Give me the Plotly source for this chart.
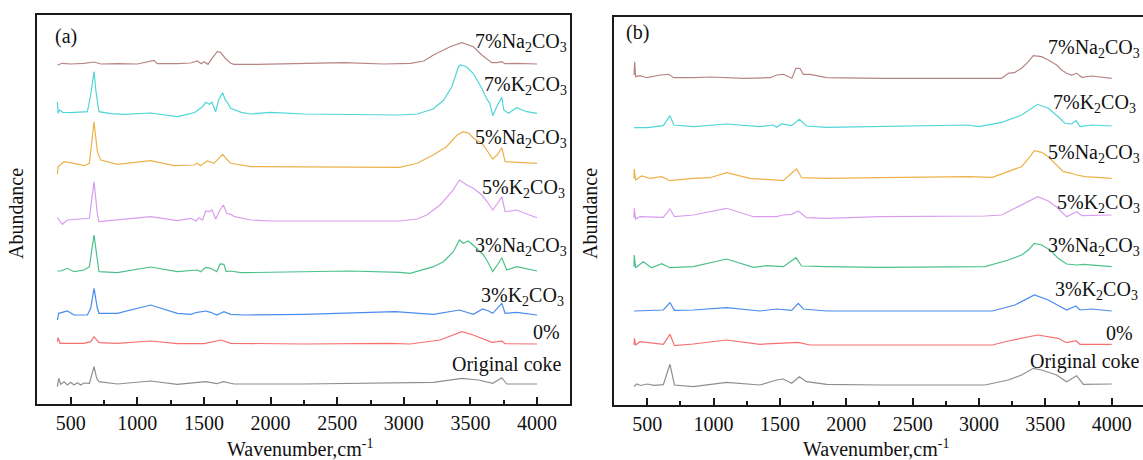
import plotly.graph_objects as go

# ---------------- Panel (a) data: wavenumber (cm-1) and stacked abundance ----------------
a_na7_x = [400, 437, 500, 600, 675, 725, 850, 1000, 1125, 1150, 1300, 1400, 1450, 1480, 1500, 1530, 1560, 1600, 1625, 1660, 1700, 1725, 1900, 2100, 2250, 2550, 2850, 2950, 3050, 3150, 3222, 3347, 3435, 3522, 3585, 3660, 3700, 3735, 3760, 3850, 4000]
a_na7_y = [339, 340.7, 340, 340.7, 342, 340, 340.3, 340, 343.7, 340.3, 340.3, 341, 343, 340.3, 342.3, 339.7, 345.7, 352.3, 351.7, 345.7, 340.7, 339.7, 339.7, 340.3, 340.7, 341.3, 340, 340.3, 340.7, 343, 349, 357.3, 361.3, 357.3, 349, 341.3, 341.3, 342.3, 340.3, 340.7, 340]

a_k7_x = [400, 405, 415, 440, 500, 600, 625, 650, 675, 690, 712, 800, 900, 1100, 1200, 1300, 1400, 1440, 1463, 1490, 1513, 1540, 1560, 1588, 1610, 1640, 1660, 1680, 1700, 1730, 1780, 1850, 2000, 2250, 2600, 2970, 3100, 3220, 3300, 3360, 3410, 3425, 3470, 3520, 3585, 3620, 3645, 3667, 3697, 3735, 3750, 3785, 3847, 3922, 4000]
a_k7_y = [302.3, 290.7, 294, 291.7, 291.3, 291.7, 292.3, 309, 332.3, 312.3, 292.3, 290.3, 289.7, 291, 289, 287.3, 290.3, 292.3, 294.7, 297.3, 301.7, 299.7, 301.7, 292.3, 304, 311.3, 304, 300.7, 295.7, 294, 291.7, 290, 291.7, 290, 289.3, 289, 290, 295, 304, 317.3, 337.3, 339, 337.3, 330.7, 315.7, 305.7, 300.7, 288.3, 297.3, 306.7, 294, 290.7, 296.3, 292.3, 290.7]

a_na5_x = [400, 405, 450, 525, 600, 640, 675, 700, 725, 850, 1100, 1275, 1425, 1450, 1475, 1525, 1575, 1640, 1670, 1700, 1850, 2250, 2970, 3100, 3220, 3320, 3400, 3447, 3490, 3522, 3585, 3622, 3667, 3700, 3735, 3760, 3847, 4000]
a_na5_y = [229.7, 237.3, 242.3, 240.7, 238.3, 240.7, 282.3, 252.3, 244, 239.7, 243.3, 238.3, 239, 240.7, 238.3, 243, 240.7, 249.7, 245, 240.7, 237.3, 237.3, 236.7, 240.7, 249, 257.3, 269, 272.3, 270.7, 265.7, 260.7, 254, 245, 249, 256.3, 242.3, 241.7, 240.7]

a_k5_x = [400, 437, 475, 600, 640, 675, 700, 712, 850, 1100, 1300, 1400, 1440, 1463, 1490, 1513, 1540, 1560, 1588, 1620, 1646, 1670, 1700, 1730, 1850, 2000, 2500, 2970, 3100, 3172, 3272, 3360, 3418, 3472, 3522, 3585, 3622, 3667, 3700, 3735, 3760, 3800, 3847, 3922, 4000]
a_k5_y = [186.3, 179.7, 184, 185, 185.7, 222.3, 190, 182.3, 184, 187.3, 183.3, 185.7, 183, 186.3, 184, 193, 192.3, 194, 185, 194, 199, 190.7, 189.7, 187.3, 184, 183, 183, 183, 185, 189, 199, 212.3, 224, 219, 215.7, 209, 203, 194, 200, 207.3, 192.3, 193, 194, 190, 186.3]

a_na3_x = [400, 425, 475, 525, 600, 640, 675, 700, 712, 850, 1100, 1300, 1400, 1450, 1475, 1513, 1550, 1596, 1621, 1650, 1666, 1700, 1776, 2250, 2600, 2970, 3047, 3222, 3297, 3372, 3417, 3447, 3484, 3547, 3597, 3622, 3667, 3710, 3735, 3772, 3847, 4000]
a_na3_y = [133, 133, 135.7, 132.3, 134, 137.3, 169, 142.3, 132.3, 131.3, 137, 132.3, 133.3, 134, 132.3, 136.7, 135.7, 132.3, 140, 139.7, 132.3, 133, 131.3, 132.3, 133, 131.7, 130.7, 137.3, 142.3, 152.3, 164, 160.7, 163, 155.7, 149, 144, 132.3, 140.7, 146.3, 134, 137.3, 133]

a_k3_x = [400, 410, 475, 525, 625, 650, 675, 700, 712, 850, 1100, 1300, 1400, 1450, 1513, 1550, 1596, 1650, 1700, 1800, 2250, 2600, 2934, 3222, 3417, 3522, 3592, 3635, 3667, 3735, 3760, 3847, 4000]
a_k3_y = [84, 90.7, 93, 89, 89, 95.7, 115.7, 95.7, 90.7, 90.7, 99, 90.7, 89.7, 91.7, 93, 91.7, 89, 92.3, 89.7, 89, 89.7, 90.7, 92.3, 89.7, 94, 89.7, 95, 93, 90.7, 100.7, 90.7, 91.7, 89]

a_0_x = [400, 405, 420, 600, 650, 675, 712, 850, 1100, 1300, 1500, 1630, 1700, 2250, 2900, 3047, 3272, 3435, 3522, 3600, 3660, 3700, 3735, 3760, 4000]
a_0_y = [62.3, 66.3, 60.7, 60.7, 62.3, 67.3, 61.3, 60.7, 63, 60.3, 60.3, 64, 60.7, 60, 60.7, 60, 64, 72.3, 69, 65, 61.7, 62.3, 63, 60.3, 60]

a_orig_x = [400, 410, 425, 450, 475, 500, 525, 550, 575, 600, 640, 660, 675, 695, 712, 850, 1100, 1300, 1513, 1596, 1646, 1726, 2250, 3222, 3435, 3560, 3667, 3735, 3772, 4000]
a_orig_y = [17.3, 25.7, 19.7, 22.3, 19, 21.7, 19, 21.3, 19, 21, 20.7, 30.7, 37.3, 25.7, 22.3, 20, 23, 19.7, 22.3, 20.3, 22.3, 20, 20, 21.7, 25.7, 24, 20.7, 26.3, 20, 20]

# ---------------- Panel (b) data ----------------
b_na7_x = [400, 405, 412, 445, 495, 600, 660, 700, 850, 975, 1225, 1425, 1475, 1525, 1590, 1620, 1650, 1676, 1726, 1852, 2250, 3170, 3221, 3271, 3321, 3372, 3409, 3447, 3472, 3522, 3585, 3622, 3660, 3698, 3736, 3775, 3849, 4000]
b_na7_y = [330, 343.3, 328.3, 329.3, 327.3, 330, 330.7, 327.3, 327.3, 328, 326.7, 327.3, 330, 330.7, 326.7, 336.7, 336.7, 330.7, 330.7, 327.3, 326.7, 326.7, 331.7, 332.7, 336.7, 343.3, 349.3, 348.3, 348.3, 345, 340, 335, 331.7, 330, 331.7, 327.7, 329, 326.7]

b_k7_x = [400, 500, 621, 671, 700, 850, 1098, 1349, 1450, 1475, 1513, 1588, 1646, 1700, 1850, 2250, 2919, 3000, 3171, 3321, 3397, 3442, 3522, 3597, 3647, 3698, 3731, 3761, 3849, 4000]
b_k7_y = [277.3, 277.3, 279.3, 289.3, 280, 278.3, 281, 278.3, 280, 277.7, 281, 279.3, 285.7, 279, 277.7, 278.3, 280, 278.3, 282.7, 290, 296.7, 300.7, 296.7, 288.3, 281.7, 281, 284.3, 278.3, 280, 279]

b_na5_x = [400, 402, 412, 457, 520, 608, 671, 850, 973, 1098, 1274, 1375, 1525, 1600, 1626, 1663, 1852, 2254, 2919, 3100, 3221, 3321, 3384, 3417, 3472, 3522, 3585, 3635, 3698, 3736, 3799, 4000]
b_na5_y = [226.7, 236, 225, 229, 226.7, 228.3, 224.3, 226.7, 227.3, 232.3, 226.7, 225.7, 224.3, 233.3, 236, 227.3, 226.7, 227.3, 228.3, 227.7, 233.3, 238.3, 248.3, 254.3, 252.7, 248.3, 240, 233.3, 231.7, 230, 228.3, 226.7]

b_k5_x = [400, 402, 412, 445, 621, 671, 705, 847, 1098, 1300, 1475, 1525, 1588, 1638, 1700, 1852, 2254, 3045, 3171, 3321, 3442, 3522, 3585, 3660, 3736, 3775, 3900, 4000]
b_k5_y = [186.7, 196.7, 186, 188.3, 187.7, 196, 188.3, 190, 196.7, 188.3, 188.3, 190, 190.7, 194, 187.3, 186.7, 188.3, 189, 190, 200, 208.3, 204, 198, 188.3, 193.3, 189.3, 189.3, 190]

b_na3_x = [400, 402, 412, 470, 533, 608, 671, 847, 1098, 1300, 1400, 1525, 1621, 1663, 1852, 2254, 3045, 3221, 3321, 3372, 3417, 3472, 3535, 3597, 3660, 3736, 3786, 4000]
b_na3_y = [138.3, 150, 137.3, 143.3, 137.3, 141.3, 137.3, 138.3, 146, 137.7, 139.3, 138.3, 147.3, 139, 138.3, 137.7, 138.3, 145, 150, 155, 161.7, 160, 155, 146.7, 141, 140, 140.7, 138.3]

b_k3_x = [400, 621, 671, 705, 847, 1098, 1349, 1475, 1588, 1638, 1676, 1852, 2254, 3100, 3271, 3417, 3522, 3597, 3660, 3731, 3761, 3849, 4000]
b_k3_y = [94, 95, 102.3, 94.7, 95, 97.3, 94, 96, 94.7, 101.7, 96, 94, 94, 94, 100, 110, 105, 100, 95, 99, 95, 96, 94]

b_0_x = [400, 403, 412, 445, 621, 671, 705, 847, 1098, 1349, 1638, 1726, 2254, 3100, 3221, 3442, 3597, 3660, 3731, 3761, 4000]
b_0_y = [60, 66.7, 60, 63.3, 60.7, 70.7, 59.3, 61, 65, 60.7, 62.7, 60, 60, 60, 64, 70, 66.7, 62.3, 64.3, 60.7, 60.7]

b_orig_x = [400, 420, 450, 500, 550, 621, 671, 705, 847, 1098, 1349, 1475, 1525, 1588, 1646, 1700, 1852, 2254, 3045, 3221, 3321, 3409, 3472, 3585, 3660, 3736, 3786, 4000]
b_orig_y = [18.3, 21, 19.5, 21, 19.7, 20.3, 40.7, 20, 18.3, 22.7, 20, 25, 26, 21.7, 28.3, 23.3, 20.7, 20, 20, 25, 30, 36.7, 35, 30, 23.3, 29.3, 20.7, 21]

names = ["7%Na2CO3", "7%K2CO3", "5%Na2CO3", "5%K2CO3", "3%Na2CO3", "3%K2CO3", "0%", "Original coke"]
label_html = ["7%Na<sub>2</sub>CO<sub>3</sub>", "7%K<sub>2</sub>CO<sub>3</sub>", "5%Na<sub>2</sub>CO<sub>3</sub>",
              "5%K<sub>2</sub>CO<sub>3</sub>", "3%Na<sub>2</sub>CO<sub>3</sub>", "3%K<sub>2</sub>CO<sub>3</sub>",
              "0%", "Original coke"]
colors = ["#b78585", "#4fd6d8", "#ecb24a", "#d99ded", "#4cc08a", "#4a8ced", "#f67070", "#8e8e8e"]

# label anchor positions (right edge wavenumber, level) per panel
a_lab_x = [4240, 4240, 4240, 4223, 4240, 4218, 4186, 4203]
a_lab_y = [361, 319, 266, 216, 157.3, 107.3, 72.3, 39.7]
b_lab_x = [4228, 4198, 4228, 4228, 4228, 4213, 4175, 4228]
b_lab_y = [356.7, 301.7, 251.7, 201.7, 158.3, 115, 71.7, 43.3]

x_ticks = [500, 1000, 1500, 2000, 2500, 3000, 3500, 4000]

a_series = [(a_na7_x, a_na7_y), (a_k7_x, a_k7_y), (a_na5_x, a_na5_y), (a_k5_x, a_k5_y),
            (a_na3_x, a_na3_y), (a_k3_x, a_k3_y), (a_0_x, a_0_y), (a_orig_x, a_orig_y)]
b_series = [(b_na7_x, b_na7_y), (b_k7_x, b_k7_y), (b_na5_x, b_na5_y), (b_k5_x, b_k5_y),
            (b_na3_x, b_na3_y), (b_k3_x, b_k3_y), (b_0_x, b_0_y), (b_orig_x, b_orig_y)]

W, H = 1143, 460
FONT = "Liberation Serif, Times New Roman, serif"

fig = go.Figure()
for i, (xs, ys) in enumerate(a_series):
    fig.add_trace(go.Scatter(x=xs, y=ys, mode="lines", name=names[i], xaxis="x", yaxis="y",
                             line=dict(color=colors[i], width=1.2), showlegend=False))
for i, (xs, ys) in enumerate(b_series):
    fig.add_trace(go.Scatter(x=xs, y=ys, mode="lines", name=names[i], xaxis="x2", yaxis="y2",
                             line=dict(color=colors[i], width=1.2), showlegend=False))

xa_common = dict(
    tickmode="array", tickvals=x_ticks, ticks="inside", ticklen=7, tickwidth=2, tickcolor="#1a1a1a",
    minor=dict(ticks="inside", ticklen=4, tickwidth=2, tickcolor="#1a1a1a", dtick=250, tick0=250),
    showline=True, linecolor="#1a1a1a", linewidth=2, mirror=True, showgrid=False, zeroline=False,
    tickfont=dict(family=FONT, size=20, color="#111"), ticklabelstandoff=0, automargin=False,
)
ya_common = dict(showticklabels=False, ticks="", showgrid=False, zeroline=False, automargin=False,
                 showline=True, linecolor="#1a1a1a", linewidth=2)

fig.update_layout(
    width=W, height=H, margin=dict(l=0, r=0, t=0, b=0),
    paper_bgcolor="white", plot_bgcolor="white",
    xaxis=dict(domain=[37.4 / W, 570.4 / W], range=[250, 4250], anchor="y", **xa_common),
    yaxis=dict(domain=[1 - 404 / H, 1 - 14.5 / H], range=[0, 389.5], anchor="x", mirror=True, **ya_common),
    xaxis2=dict(domain=[614.1 / W, 1.0], range=[250, 4236], anchor="y2", **xa_common),
    yaxis2=dict(domain=[1 - 405 / H, 1 - 16.7 / H], range=[0, 388.3], anchor="x2", mirror=False, **ya_common),
)

ann = []
for i in range(8):
    ann.append(dict(x=a_lab_x[i], y=a_lab_y[i], xref="x", yref="y", text=label_html[i], showarrow=False,
                    xanchor="right", yanchor="middle", font=dict(family=FONT, size=20, color="#111")))
    ann.append(dict(x=b_lab_x[i], y=b_lab_y[i], xref="x2", yref="y2", text=label_html[i], showarrow=False,
                    xanchor="right", yanchor="middle", font=dict(family=FONT, size=20, color="#111")))
ann.append(dict(x=462, y=367.3, xref="x", yref="y", text="(a)", showarrow=False, xanchor="center",
                yanchor="middle", font=dict(family=FONT, size=20, color="#111")))
ann.append(dict(x=430, y=372, xref="x2", yref="y2", text="(b)", showarrow=False, xanchor="center",
                yanchor="middle", font=dict(family=FONT, size=20, color="#111")))
for xc in [16 / W, 590 / W]:
    ann.append(dict(x=xc, y=1 - 214 / H, xref="paper", yref="paper", text="Abundance", textangle=-90,
                    showarrow=False, xanchor="center", yanchor="middle",
                    font=dict(family=FONT, size=20, color="#111")))
for xc in [300 / W, 876 / W]:
    ann.append(dict(x=xc, y=1 - 448 / H, xref="paper", yref="paper", text="Wavenumber,cm<sup>-1</sup>",
                    showarrow=False, xanchor="center", yanchor="middle",
                    font=dict(family=FONT, size=20, color="#111")))
fig.update_layout(annotations=ann)

fig.write_html("out.html")
